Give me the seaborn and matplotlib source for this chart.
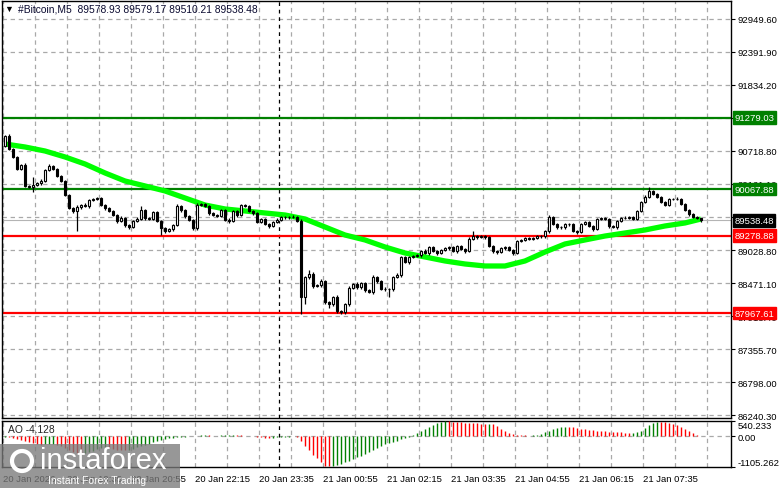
import matplotlib
matplotlib.use('Agg')
import matplotlib.pyplot as plt
import numpy as np
import seaborn as sns
from matplotlib.patches import Rectangle, Circle

sns.set_style('white')
plt.rcParams['font.family'] = ['Liberation Sans', 'DejaVu Sans']

# M5 closes (first open separately)
first_open = 90798
closes = [90967, 90747, 90612, 90408, 90476, 90121, 90104, 90138, 90171, 90205,
          90391, 90459, 90408, 90290, 90205, 89968, 89747, 89696, 89764, 89798,
          89781, 89883, 89900, 89917, 89798, 89747, 89696, 89628, 89527, 89578,
          89459, 89425, 89527, 89561, 89713, 89578, 89565, 89679, 89527, 89408,
          89357, 89391, 89459, 89781, 89713, 89611, 89544, 89408, 89798, 89815,
          89781, 89662, 89628, 89620, 89713, 89544, 89527, 89696, 89628, 89798,
          89781, 89696, 89662, 89510, 89561, 89476, 89442, 89510, 89544, 89595,
          89590, 89600, 89592, 89527, 88239, 88578, 88629, 88425, 88442, 88510,
          88154, 88120, 88239, 88002, 87985, 88120, 88391, 88459, 88408, 88476,
          88357, 88324, 88578, 88510, 88374, 88380, 88370, 88578, 88612, 88916,
          88832, 88916, 88933, 88950, 89018, 88984, 89086, 89018, 88984, 89035,
          89069, 89086, 89018, 89103, 89052, 89018, 89222, 89272, 89255, 89272,
          89255, 89103, 89018, 89001, 89069, 89086, 89035, 88984, 89188, 89205,
          89239, 89222, 89239, 89272, 89265, 89357, 89595, 89476, 89425, 89420,
          89476, 89470, 89357, 89340, 89476, 89510, 89442, 89391, 89561, 89578,
          89561, 89442, 89425, 89527, 89578, 89585, 89595, 89561, 89696, 89849,
          89934, 90035, 89985, 89934, 89849, 89798, 89900, 89905, 89895, 89815,
          89713, 89645, 89595, 89578.93, 89538.48]

wick_up = [20, 30, 25, 15, 20, 30, 20, 135, 25, 40, 20, 30, 20, 20, 20, 15, 20, 25, 30, 20, 30, 20, 25, 20, 20,
           20, 20, 25, 20, 30, 20, 20, 25, 30, 70, 20, 25, 20, 20, 20, 25, 20, 20, 40, 20, 20, 25, 20, 30, 20,
           25, 20, 20, 25, 20, 20, 30, 25, 20, 25, 20, 25, 20, 20, 25, 20, 20, 25, 30, 20, 25, 20, 30, 25, 30,
           20, 70, 30, 25, 40, 20, 25, 20, 30, 20, 25, 30, 25, 40, 20, 25, 20, 30, 20, 25, 30, 20, 25, 30, 25,
           25, 20, 20, 25, 20, 30, 20, 25, 20, 20, 25, 20, 25, 20, 25, 20, 30, 85, 20, 25, 20, 25, 20, 20, 25,
           20, 25, 20, 25, 20, 20, 25, 20, 20, 25, 20, 30, 25, 20, 20, 25, 20, 25, 20, 25, 20, 25, 20, 25, 20,
           25, 20, 25, 20, 20, 25, 20, 25, 20, 25, 30, 70, 25, 20, 25, 20, 25, 20, 25, 20, 20, 25, 20, 20, 0.24]
wick_dn = [25, 20, 20, 25, 20, 20, 25, 85, 20, 30, 25, 20, 20, 25, 20, 25, 20, 30, 340, 40, 25, 30, 20, 25, 20,
           25, 20, 20, 30, 20, 25, 40, 20, 25, 20, 30, 20, 25, 20, 120, 30, 20, 25, 20, 25, 30, 20, 30, 30, 20,
           20, 25, 20, 30, 25, 20, 30, 20, 25, 20, 25, 20, 30, 25, 20, 25, 30, 20, 25, 20, 30, 25, 20, 25, 290,
           120, 30, 40, 20, 30, 25, 60, 25, 30, 40, 35, 25, 20, 30, 25, 30, 20, 25, 30, 20, 30, 135, 25, 20, 25,
           20, 25, 20, 20, 25, 20, 25, 20, 30, 20, 20, 25, 20, 25, 20, 25, 20, 20, 25, 20, 25, 20, 30, 25, 20,
           25, 20, 25, 20, 25, 20, 20, 25, 20, 20, 25, 30, 20, 25, 20, 20, 25, 20, 25, 20, 25, 20, 25, 20, 25,
           20, 25, 20, 25, 20, 20, 25, 20, 25, 20, 25, 20, 25, 20, 25, 20, 20, 25, 20, 25, 20, 25, 20, 20, 28.27]

# moving average, read every 5 bars
ma_bar = [0, 5, 10, 15, 20, 25, 30, 35, 40, 45, 50, 55, 60, 65, 70, 75, 80, 85,
          90, 95, 100, 105, 110, 115, 120, 125, 130, 135, 140, 145, 150, 155, 160, 165, 170, 174]
ma_price = [90832, 90781, 90713, 90612, 90493, 90341, 90205, 90121, 90036, 89917, 89798, 89731,
            89697, 89663, 89629, 89561, 89426, 89290, 89206, 89087, 88985, 88918, 88850, 88799,
            88765, 88765, 88850, 89002, 89138, 89206, 89273, 89324, 89375, 89443, 89494, 89561]

# Awesome Oscillator
ao = [-20, -45, -70, -100, -135, -175, -215, -255, -290, -315,
      -300, -280, -270,
      -310, -370, -430, -500, -570, -620, -640,
      -610, -570, -520, -470, -430, -400,
      -420, -450, -480, -500, -510, -490,
      -450, -400, -355, -310, -265, -220, -180, -145, -110, -80, -55,
      -45, -35, -22, -10, 6,
      18, 24, 28, 22, 16, 12, 22, 28, 34, 38, 32, 26, 20,
      10, -10, -32, -48, -60, -66, -55,
      -44, -34, -24, -18, -12, -18,
      -170, -340, -510, -670, -800, -920, -1060,
      -1080, -1060, -1030, -990, -940, -880, -820, -760, -700, -630, -560, -490, -420, -350, -300, -260,
      -210, -160, -110, -60, -15, 35, 95, 165, 250, 330, 400, 455, 500, 535,
      530, 520, 505, 490, 480, 470, 460, 455, 450, 445, 450, 420, 350, 260, 170, 100, 60, 40, 30, 25,
      20, 30, 50, 80, 130, 200, 260, 300, 320, 330,
      325, 310, 290, 270, 250, 230, 210, 195, 180, 165, 155, 145, 135, 130, 125, 118, 122, 140,
      200, 280, 380, 460, 520, 510, 490, 460, 420, 380, 320, 250, 170, 100, 40, -4.128]

green_levels = [91279.03, 90067.88]
red_levels = [89278.88, 87967.61]
last_price = 89538.48
price_ticks = [92949.60, 92391.90, 91834.20, 91276.50, 90718.80, 90161.10, 89603.40,
               89028.80, 88471.10, 87913.40, 87355.70, 86798.00, 86240.30]
ao_ticks = [540.233, 0.00, -1105.262]
time_labels = ['20 Jan 2026', '20 Jan 19:35', '20 Jan 20:55', '20 Jan 22:15', '20 Jan 23:35',
               '21 Jan 00:55', '21 Jan 02:15', '21 Jan 03:35', '21 Jan 04:55', '21 Jan 06:15',
               '21 Jan 07:35']
label_step = 16
grid_step = 8
day_break_bar = 68.5

c = np.array(closes, float)
o = np.r_[first_open, c[:-1]]
hi = np.maximum(o, c) + np.array(wick_up)
lo = np.minimum(o, c) - np.array(wick_dn)
idx = np.arange(len(c))
bull = c >= o

W, H = 781, 489
fig = plt.figure(figsize=(W / 100, H / 100), dpi=100)
fig.patch.set_facecolor('white')
ax = fig.add_axes([2 / W, 1 - 419 / H, 729 / W, 417 / H])
ax2 = fig.add_axes([2 / W, 1 - 468 / H, 729 / W, 46 / H])

xmin, xmax = -0.75, 181.5
grid_kw = dict(color='#a9a9a9', ls=(0, (3.5, 3)), lw=0.9, zorder=0)
fs = 6.8

# main panel
ax.set_xlim(xmin, xmax)
ax.set_ylim(86190, 93254)
for p in price_ticks:
    ax.axhline(p, **grid_kw)
for v in np.arange(-0.5, xmax, grid_step):
    ax.axvline(v, **grid_kw)
    ax2.axvline(v, **grid_kw)
ax.axvline(day_break_bar, color='black', ls=(0, (3, 3)), lw=0.9, zorder=1)
ax2.axvline(day_break_bar, color='black', ls=(0, (3, 3)), lw=0.9, zorder=1)

ax.axhline(last_price, color='#b4b4b4', lw=0.8, zorder=1)
for lv in green_levels:
    ax.axhline(lv, color='#008000', lw=1.6, zorder=2)
for lv in red_levels:
    ax.axhline(lv, color='#ff0000', lw=1.6, zorder=2)

sns.lineplot(x=ma_bar, y=ma_price, ax=ax, color='#00ff00', lw=3.8, zorder=2.5,
             solid_capstyle='butt')

ax.vlines(idx, lo, hi, color='black', lw=0.9, zorder=3)
ax.bar(idx, c - o, bottom=o, width=0.72, color=np.where(bull, 'white', 'black'),
       edgecolor='black', linewidth=0.8, zorder=4)

ax.yaxis.tick_right()
ax.set_yticks(price_ticks)
ax.set_yticklabels([f'{p:.2f}' for p in price_ticks], fontsize=fs)
ax.tick_params(axis='y', direction='out', length=3, width=0.8, pad=2, colors='black')
ax.tick_params(axis='x', bottom=False, labelbottom=False)
ax.set_xlabel('')
ax.set_ylabel('')

tr = ax.get_yaxis_transform()
box_kw = dict(transform=tr, ha='left', va='center', color='white', fontsize=fs, zorder=6,
              clip_on=False)
for lv in green_levels:
    ax.text(1.0045, lv, f'{lv:.2f}', bbox=dict(boxstyle='square,pad=0.18', fc='#008000', ec='#008000'), **box_kw)
for lv in red_levels:
    ax.text(1.0045, lv, f'{lv:.2f}', bbox=dict(boxstyle='square,pad=0.18', fc='#ff0000', ec='#ff0000'), **box_kw)
ax.text(1.0045, last_price, f'{last_price:.2f}', bbox=dict(boxstyle='square,pad=0.18', fc='black', ec='black'), **box_kw)

# AO panel
ax2.set_xlim(xmin, xmax)
ax2.set_ylim(ao_ticks[-1], ao_ticks[0])
ax2.axhline(0, **grid_kw)
ao_arr = np.array(ao, float)
rising = np.r_[True, ao_arr[1:] > ao_arr[:-1]]
ax2.vlines(idx, 0, ao_arr, colors=np.where(rising, '#008000', '#ff0000'), lw=1.0, zorder=3)
ax2.yaxis.tick_right()
ax2.set_yticks(ao_ticks)
ax2.set_yticklabels(['540.233', '0.00', '-1105.262'], fontsize=fs)
labs = ax2.get_yticklabels()
labs[0].set_va('top')
labs[2].set_va('bottom')
ax2.tick_params(axis='y', direction='out', length=3, width=0.8, pad=2, colors='black')
ax2.set_xticks(np.arange(len(time_labels)) * label_step - 0.5)
ax2.set_xticklabels(time_labels, fontsize=fs, ha='left')
ax2.tick_params(axis='x', direction='out', length=3, width=0.8, pad=2, colors='black')
ax2.text(0.008, 0.82, 'AO -4.128', transform=ax2.transAxes, fontsize=7.4, va='center')

for a in (ax, ax2):
    for s in a.spines.values():
        s.set_color('black')
        s.set_linewidth(1.0)

# header
fig.text(4 / W, 1 - 9 / H, '\u25bc', fontsize=6.5, va='center', ha='left', color='black')
fig.text(18 / W, 1 - 9 / H, '#Bitcoin,M5  89578.93 89579.17 89510.21 89538.48',
         fontsize=7.4, va='center', ha='left', color='#0a0a30')

# watermark
fig.patches.append(Rectangle((0, 0), 180 / W, 44 / H, transform=fig.transFigure,
                             fc='#7a7a7a', ec='none', alpha=0.78, zorder=10))
fig.patches.append(Circle((0.22, 0.27), 0.1, transform=fig.dpi_scale_trans,
                          fc='none', ec='white', lw=3, zorder=11))
fig.text(40 / W, 1 - 461 / H, 'instaforex', fontsize=21, color='white', va='center',
         ha='left', zorder=12)
fig.text(48 / W, 1 - 481 / H, 'Instant Forex Trading', fontsize=7.5, color='white',
         va='center', ha='left', zorder=12)

fig.savefig('out.png', dpi=100)
